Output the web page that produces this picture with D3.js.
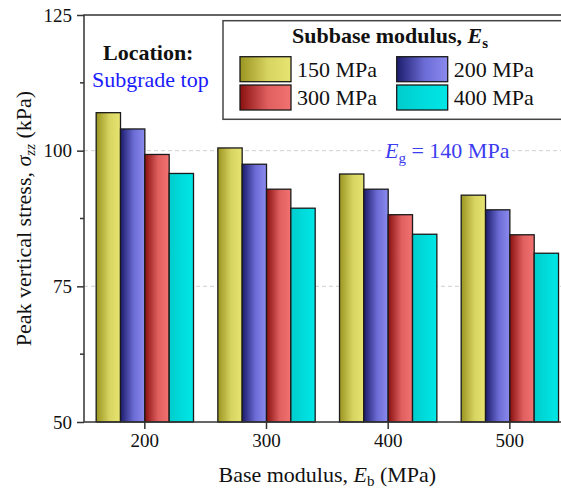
<!DOCTYPE html>
<html>
<head>
<meta charset="utf-8">
<script src="https://cdn.jsdelivr.net/npm/d3@7"></script>
<style>
html,body{margin:0;padding:0;background:#fff;}
svg{display:block;}
svg text{font-family:"Liberation Serif","Times New Roman",Times,"Nimbus Roman","DejaVu Serif",serif !important;}
</style>
</head>
<body>
<svg id="chart" width="561" height="490" font-family="Liberation Serif, Times New Roman, serif"></svg>
<script>
// ---- data ----
const categories = ["200", "300", "400", "500"];
const seriesNames = ["150 MPa", "200 MPa", "300 MPa", "400 MPa"];
const s150 = [107.0, 100.5, 95.7, 91.8];
const s200 = [104.0, 97.5, 92.9, 89.1];
const s300 = [99.3, 92.9, 88.2, 84.5];
const s400 = [95.8, 89.4, 84.6, 81.1];
const yTickValues = [50, 75, 100, 125];
const yMinorTicks = [62.5, 87.5, 112.5];
const gridValues = [75, 100];

const seriesValues = [s150, s200, s300, s400];
const gradStops = [
  ["#9a9420", "#d8d462", "#e8e472"],
  ["#1c1c6c", "#6c6cd6", "#8a8aee"],
  ["#8a1010", "#e06060", "#f27272"],
  ["#00cccc", "#00dcdc", "#00e6e6"]
];

const svg = d3.select("#chart");
const m = {left: 84, top: 15, right: 570.7, bottom: 422};

const x0 = d3.scaleBand().domain(categories).range([m.left, m.right]).paddingInner(0.2).paddingOuter(0.1);
const x1 = d3.scaleBand().domain(seriesNames).range([0, x0.bandwidth()]);
const y = d3.scaleLinear().domain([50, 125]).range([m.bottom, m.top]);

// gradients
const defs = svg.append("defs");
seriesNames.forEach((s, i) => {
  const g = defs.append("linearGradient").attr("id", "g" + i)
    .attr("x1", "0%").attr("x2", "100%").attr("y1", "0%").attr("y2", "0%");
  g.append("stop").attr("offset", "0%").attr("stop-color", gradStops[i][0]);
  g.append("stop").attr("offset", "55%").attr("stop-color", gradStops[i][1]);
  g.append("stop").attr("offset", "100%").attr("stop-color", gradStops[i][2]);
});

// gridlines
svg.append("g").selectAll("line").data(gridValues).join("line")
  .attr("x1", m.left).attr("x2", m.right)
  .attr("y1", d => y(d)).attr("y2", d => y(d))
  .attr("stroke", "#d0d0d0").attr("stroke-width", 1).attr("stroke-dasharray", "4,3");

// bars
const groups = svg.append("g").selectAll("g").data(categories).join("g")
  .attr("transform", d => `translate(${x0(d)},0)`);
groups.selectAll("rect").data((c, ci) => seriesNames.map((s, si) => ({s, si, v: seriesValues[si][ci]})))
  .join("rect")
  .attr("x", d => x1(d.s))
  .attr("width", x1.bandwidth())
  .attr("y", d => y(d.v))
  .attr("height", d => y(50) - y(d.v))
  .attr("fill", d => `url(#g${d.si})`)
  .attr("stroke", "#1a1a1a").attr("stroke-width", 1.3);

// axes
const axisColor = "#333";
const yAxis = svg.append("g").attr("transform", `translate(${m.left},0)`)
  .call(d3.axisLeft(y).tickValues(yTickValues).tickSize(7).tickPadding(5).tickFormat(d3.format("d")));
yAxis.attr("font-family", null);
yAxis.select(".domain").remove();
yAxis.selectAll(".tick line").attr("stroke", axisColor).attr("stroke-width", 1.5);
yAxis.selectAll("text").attr("font-size", 19).attr("fill", "#111");

svg.append("g").selectAll("line").data(yMinorTicks).join("line")
  .attr("x1", m.left - 4).attr("x2", m.left)
  .attr("y1", d => y(d)).attr("y2", d => y(d))
  .attr("stroke", axisColor).attr("stroke-width", 1.5);

const xAxis = svg.append("g").attr("transform", `translate(0,${m.bottom})`)
  .call(d3.axisBottom(x0).tickSize(7).tickPadding(5));
xAxis.attr("font-family", null);
xAxis.select(".domain").remove();
xAxis.selectAll(".tick line").attr("stroke", axisColor).attr("stroke-width", 1.5);
xAxis.selectAll("text").attr("font-size", 19).attr("fill", "#111");

// frame
svg.append("rect").attr("x", m.left).attr("y", m.top)
  .attr("width", m.right - m.left).attr("height", m.bottom - m.top)
  .attr("fill", "none").attr("stroke", axisColor).attr("stroke-width", 1.5);

// axis titles
const yt = svg.append("text").attr("transform", `translate(31,${(m.top + m.bottom) / 2}) rotate(-90)`)
  .attr("text-anchor", "middle").attr("font-size", 22).attr("fill", "#111");
yt.append("tspan").text("Peak vertical stress, ");
yt.append("tspan").attr("font-style", "italic").text("σ");
yt.append("tspan").attr("font-style", "italic").attr("font-size", 15).attr("dy", 4).text("zz");
yt.append("tspan").attr("dy", -4).text(" (kPa)");

const xt = svg.append("text").attr("x", (m.left + m.right) / 2).attr("y", 482)
  .attr("text-anchor", "middle").attr("font-size", 22).attr("fill", "#111");
xt.append("tspan").text("Base modulus, ");
xt.append("tspan").attr("font-style", "italic").text("E");
xt.append("tspan").attr("font-size", 15).attr("dy", 4).text("b");
xt.append("tspan").attr("dy", -4).text(" (MPa)");

// annotations
svg.append("text").attr("x", 103).attr("y", 60).attr("font-size", 22).attr("font-weight", "bold")
  .attr("fill", "#111").text("Location:");
svg.append("text").attr("x", 92).attr("y", 87).attr("font-size", 22)
  .attr("fill", "#1a1aff").text("Subgrade top");

svg.append("rect").attr("x", 381).attr("y", 140).attr("width", 131).attr("height", 26).attr("fill", "#fff");
const eg = svg.append("text").attr("x", 385).attr("y", 158).attr("font-size", 22).attr("fill", "#3c3cf0");
eg.append("tspan").attr("font-style", "italic").text("E");
eg.append("tspan").attr("font-size", 15).attr("dy", 5).text("g");
eg.append("tspan").attr("dy", -5).text(" = 140 MPa");

// legend
const lg = svg.append("g");
lg.append("rect").attr("x", 223).attr("y", 20.7).attr("width", 345).attr("height", 98.6)
  .attr("fill", "#fff").attr("stroke", "#444").attr("stroke-width", 1.5);
const lt = lg.append("text").attr("x", 292).attr("y", 43).attr("font-size", 22).attr("font-weight", "bold").attr("fill", "#111");
lt.append("tspan").text("Subbase modulus, ");
lt.append("tspan").attr("font-style", "italic").text("E");
lt.append("tspan").attr("font-size", 15).attr("dy", 5).text("s");

const legX = [240, 396.7];
const legY = [56.7, 85];
seriesNames.forEach((s, i) => {
  const col = i % 2, row = Math.floor(i / 2);
  lg.append("rect").attr("x", legX[col]).attr("y", legY[row]).attr("width", 51).attr("height", 25)
    .attr("fill", `url(#g${i})`).attr("stroke", "#1a1a1a").attr("stroke-width", 1.3);
  lg.append("text").attr("x", legX[col] + 57).attr("y", legY[row] + 20).attr("font-size", 22)
    .attr("fill", "#111").text(s);
});
</script>
</body>
</html>
